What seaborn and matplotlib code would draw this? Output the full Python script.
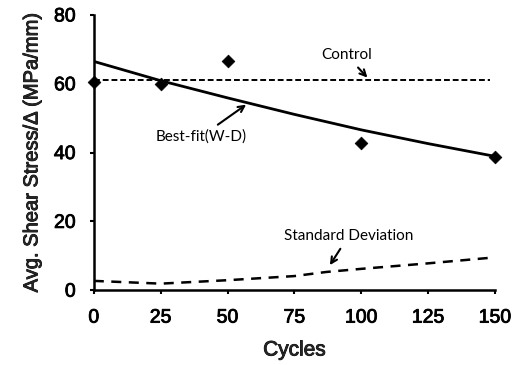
import matplotlib
matplotlib.use("Agg")
import matplotlib.pyplot as plt
import matplotlib.patheffects as pe
import seaborn as sns
import pandas as pd

# Measured data points
cycles_pts = [0, 25, 50, 100, 150]
stress_pts = [60.5, 59.8, 66.7, 42.9, 38.8]

# Best-fit (W-D) curve
fit_x = [0, 25, 50, 75, 100, 125, 150]
fit_y = [66.5, 60.9, 55.9, 51.1, 46.6, 42.6, 38.9]

# Control level
ctrl_x = [0, 148]
ctrl_y = [61.0, 61.0]

# Standard deviation curve
sd_x = [0, 25, 50, 75, 87, 100, 125, 148]
sd_y = [2.7, 1.9, 2.9, 4.1, 5.3, 6.2, 7.8, 9.4]

x_ticks = [0, 25, 50, 75, 100, 125, 150]
y_ticks = [0, 20, 40, 60, 80]

sns.set_style("ticks")
plt.rcParams['font.family'] = ['Liberation Sans', 'DejaVu Sans']

fig = plt.figure(figsize=(5.3, 3.65), dpi=100)
ax = fig.add_axes([0.177, 0.205, 0.757, 0.754])

sns.lineplot(x=fit_x, y=fit_y, ax=ax, color='black', lw=2.0, zorder=3)
sns.lineplot(x=ctrl_x, y=ctrl_y, ax=ax, color='black', lw=1.4, zorder=3)
ax.lines[-1].set_dashes([3, 1.5])
sns.lineplot(x=sd_x, y=sd_y, ax=ax, color='black', lw=1.8, zorder=3)
ax.lines[-1].set_dashes([4, 3])
sns.scatterplot(x=cycles_pts, y=stress_pts, ax=ax, marker='D', s=42,
                color='black', edgecolor='black', zorder=4, clip_on=False)

ax.set_xlim(0, 150)
ax.set_ylim(0, 80)
ax.set_xticks(x_ticks)
ax.set_yticks(y_ticks)
ax.tick_params(axis='both', labelsize=14, length=3, width=1.5, color='black',
               labelcolor='black')
ax.tick_params(axis='x', pad=11)
ax.tick_params(axis='y', pad=10)
for s in ['top', 'right']:
    ax.spines[s].set_visible(False)
for s in ['left', 'bottom']:
    ax.spines[s].set_linewidth(1.8)
    ax.spines[s].set_color('black')

ax.set_xlabel('Cycles', fontsize=15, labelpad=10)
ax.set_ylabel('Avg. Shear Stress/Δ (MPa/mm)', fontsize=14.5, labelpad=9)

thick = [pe.withStroke(linewidth=0.6, foreground='black')]
for t in ax.get_xticklabels() + ax.get_yticklabels() + [ax.xaxis.label, ax.yaxis.label]:
    t.set_path_effects(thick)

afont = dict(fontsize=11, family=['Lato', 'DejaVu Sans'], color='black')
arrow = dict(arrowstyle='->', color='black', lw=1.5)
ax.annotate('Control', xy=(103, 61.2), xytext=(94.5, 68.3), ha='center', va='center',
            arrowprops=arrow, **afont)
ax.annotate('Best-fit(W-D)', xy=(57.8, 54.4), xytext=(40, 44.6), ha='center', va='center',
            arrowprops=arrow, **afont)
ax.annotate('Standard Deviation', xy=(87.7, 6.6), xytext=(95.2, 15.7), ha='center', va='center',
            arrowprops=arrow, **afont)

fig.savefig('out.png', dpi=100)
